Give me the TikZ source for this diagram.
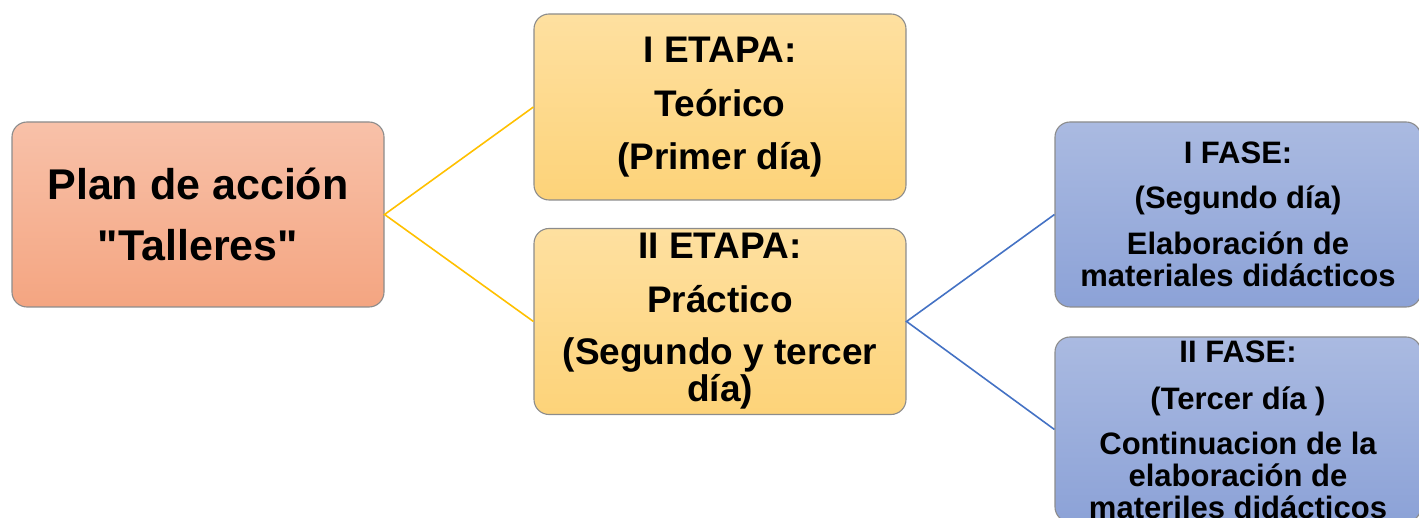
\documentclass[tikz,border=0pt]{standalone}
\usepackage{fontspec}
\newfontfamily\boxfont{Liberation Sans}
\definecolor{rootTop}{HTML}{F8C1A9}
\definecolor{rootBot}{HTML}{F4A581}
\definecolor{etapaTop}{HTML}{FEE0A0}
\definecolor{etapaBot}{HTML}{FDD379}
\definecolor{faseTop}{HTML}{AABAE1}
\definecolor{faseBot}{HTML}{8CA2D7}
\definecolor{boxline}{HTML}{8C8C8C}
\definecolor{linkYellow}{HTML}{FFC000}
\definecolor{linkBlue}{HTML}{4472C4}
\begin{document}
\begin{tikzpicture}[x=1pt,y=-1pt,
    box/.style={draw=boxline, line width=1.1pt, rounded corners=15pt, inner sep=0pt, align=center},
    rootbox/.style={box, minimum width=372pt, minimum height=185pt, top color=rootTop, bottom color=rootBot,
      font=\boxfont\fontsize{43}{61}\selectfont\bfseries},
    etapabox/.style={box, minimum width=372pt, minimum height=186pt, top color=etapaTop, bottom color=etapaBot,
      font=\boxfont\fontsize{37}{37}\selectfont\bfseries},
    fasebox/.style={box, minimum width=366pt, minimum height=185pt, top color=faseTop, bottom color=faseBot,
      font=\boxfont\fontsize{31}{32}\selectfont\bfseries},
    link/.style={line width=1.6pt}]
  \useasboundingbox (0,0) rectangle (1419,518);
  \clip (0,0) rectangle (1419,518);
  \node [rootbox] (plan) at (198,214.5) {Plan de acción\\"Talleres"};
  \node [etapabox] (etapa1) at (720,107) {I ETAPA:\\[17pt]Teórico\\[16pt](Primer día)};
  \node [etapabox] (etapa2) at (720,321.5) {II ETAPA:\\[17pt]Práctico\\[15pt](Segundo y tercer\\día)};
  \node [fasebox] (fase1) at (1238,214.5) {I FASE:\\[13pt](Segundo día)\\[14pt]Elaboración de\\materiales didácticos};
  \node [fasebox] (fase2) at (1238,429.5) {II FASE:\\[15pt](Tercer día )\\[13pt]Continuacion de la\\elaboración de\\materiles didácticos};
  \draw [link, linkYellow] (etapa1.west) -- (plan.east) -- (etapa2.west);
  \draw [link, linkBlue] (fase1.west) -- (etapa2.east) -- (fase2.west);
\end{tikzpicture}
\end{document}
